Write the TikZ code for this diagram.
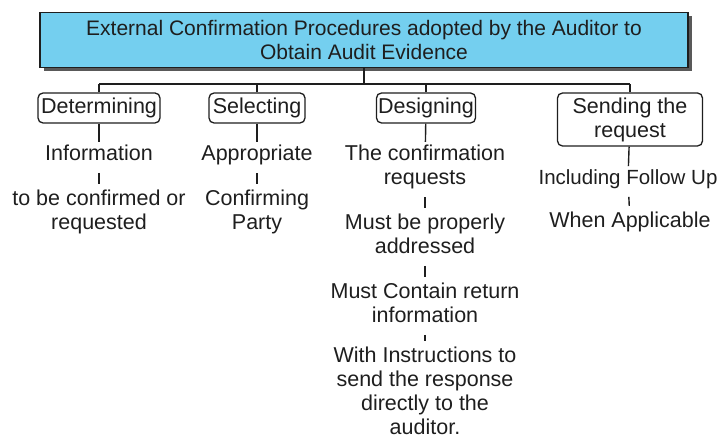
\documentclass[tikz,border=0pt]{standalone}
\usepackage{fontspec}
\setmainfont{Liberation Sans}
\usetikzlibrary{shadows}
\definecolor{titlefill}{HTML}{74CFEF}
\definecolor{ink}{HTML}{1E1E1E}
\newcommand\lstrut{\rule[-4pt]{0pt}{19pt}}
\begin{document}
\begin{tikzpicture}[x=1pt,y=-1pt,
  every node/.style={font=\fontsize{21.5}{24}\selectfont, text=ink},
  titlebox/.style={draw=ink, line width=1.6pt, fill=titlefill, minimum width=648pt, minimum height=55pt, align=center, inner sep=0pt, font=\fontsize{21}{24}\selectfont, drop shadow={shadow xshift=4pt, shadow yshift=-4pt, fill=black!65, opacity=1}},
  catbox/.style={draw=ink, line width=1.3pt, rounded corners=5pt, align=center, inner sep=0pt, fill=white},
  item/.style={align=center, inner sep=0pt},
  link/.style={draw=ink, line width=1.4pt},
  bar/.style={link, shorten <=8pt, shorten >=6pt},
  drop/.style={link, shorten >=3pt}]
\useasboundingbox (0,0) rectangle (721,438);

\node[titlebox] (title) at (364,40) {External Confirmation Procedures adopted by the Auditor to\\Obtain Audit Evidence};

\node[catbox, minimum width=122pt, minimum height=30pt] (det) at (99,108) {Determining};
\node[catbox, minimum width=96pt, minimum height=30pt] (sel) at (257,108) {Selecting};
\node[catbox, minimum width=99pt, minimum height=30pt] (des) at (426,108) {Designing};
\node[catbox, minimum width=145pt, minimum height=53pt] (snd) at (630,119.5) {Sending the\\request};

\coordinate (hub) at (364,84);
\coordinate (hl) at (99,84);
\coordinate (hr) at (630,84);
\draw[link] (title.south) -- (hub);
\draw[link] (hl) -- (hr);
\draw[link] (det.north) -- (hl);
\draw[link] (sel.north) -- (sel.north |- hub);
\draw[link] (des.north) -- (des.north |- hub);
\draw[link] (snd.north) -- (hr);

% Determining column
\node[item] (d1) at (99,155) {\lstrut Information};
\node[item] (d2) at (99,212) {\lstrut to be confirmed or\\\lstrut requested};
\draw[drop] (det) -- (d1);
\draw[bar] (d1) -- (d2);

% Selecting column
\node[item] (s1) at (257,155) {\lstrut Appropriate};
\node[item] (s2) at (257,212) {\lstrut Confirming\\\lstrut Party};
\draw[drop] (sel) -- (s1);
\draw[bar] (s1) -- (s2);

% Designing column
\node[item] (g1) at (425,167) {\lstrut The confirmation\\\lstrut requests};
\node[item] (g2) at (425,236) {\lstrut Must be properly\\\lstrut addressed};
\node[item] (g3) at (425,305) {\lstrut Must Contain return\\\lstrut information};
\node[item] (g4) at (425,393) {\lstrut With Instructions to\\\lstrut send the response\\\lstrut directly to the\\\lstrut auditor.};
\draw[drop] (des) -- (g1);
\draw[bar] (g1) -- (g2);
\draw[bar] (g2) -- (g3);
\draw[bar] (g3) -- (g4);

% Sending column
\node[item, font=\fontsize{20.5}{24}\selectfont] (n1) at (628,179) {\lstrut Including Follow Up};
\node[item] (n2) at (630,222) {\lstrut When Applicable};
\draw[drop] (snd) -- (n1);
\draw[bar] (n1) -- (n2);
\end{tikzpicture}
\end{document}
